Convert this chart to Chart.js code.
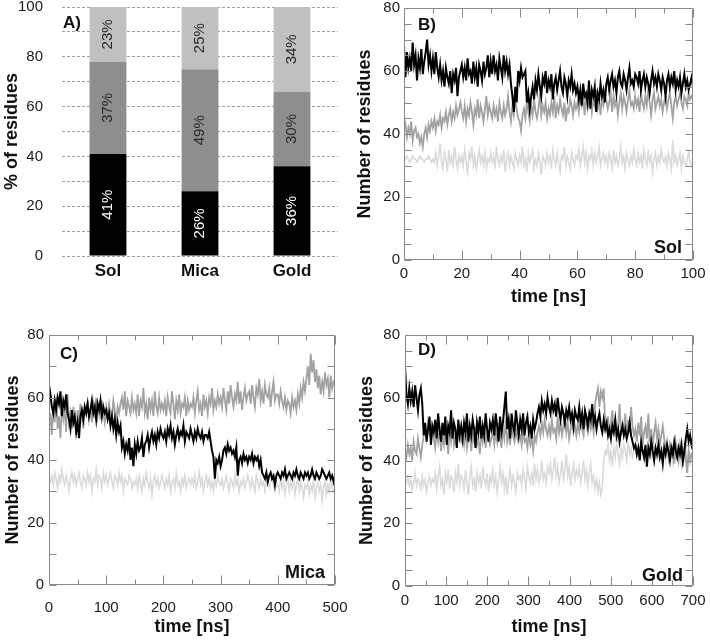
<!DOCTYPE html>
<html><head><meta charset="utf-8">
<script src="https://cdn.jsdelivr.net/npm/chart.js@4.4.1/dist/chart.umd.min.js"></script>
<style>
html,body{margin:0;padding:0;background:#fff;}
#wrap{position:relative;width:710px;height:642px;overflow:hidden;background:#fff;}
canvas{position:absolute;left:0;top:0;}
</style></head><body>
<div id="wrap">
<canvas id="cA" width="710" height="642"></canvas>
<canvas id="cB" width="710" height="642"></canvas>
<canvas id="cC" width="710" height="642"></canvas>
<canvas id="cD" width="710" height="642"></canvas>
</div>
<script>
// ---------- Panel A data ----------
const categories = ['Sol', 'Mica', 'Gold'];
const pctBlack = [41, 26, 36];
const pctMid = [37, 49, 30];
const pctLight = [23, 25, 34];

// ---------- Panel B (Sol) ----------
const timeB = [
0,0.5,1,1.5,2,2.5,3,3.5,4,4.5,5,5.5,6,6.5,7,7.5,8,8.5,9,9.5,
10,10.5,11,11.5,12,12.5,13,13.5,14,14.5,15,15.5,16,16.5,17,17.5,18,18.5,19,19.5,
20,20.5,21,21.5,22,22.5,23,23.5,24,24.5,25,25.5,26,26.5,27,27.5,28,28.5,29,29.5,
30,30.5,31,31.5,32,32.5,33,33.5,34,34.5,35,35.5,36,36.5,37,37.5,38,38.5,39,39.5,
40,40.5,41,41.5,42,42.5,43,43.5,44,44.5,45,45.5,46,46.5,47,47.5,48,48.5,49,49.5,
50,50.5,51,51.5,52,52.5,53,53.5,54,54.5,55,55.5,56,56.5,57,57.5,58,58.5,59,59.5,
60,60.5,61,61.5,62,62.5,63,63.5,64,64.5,65,65.5,66,66.5,67,67.5,68,68.5,69,69.5,
70,70.5,71,71.5,72,72.5,73,73.5,74,74.5,75,75.5,76,76.5,77,77.5,78,78.5,79,79.5,
80,80.5,81,81.5,82,82.5,83,83.5,84,84.5,85,85.5,86,86.5,87,87.5,88,88.5,89,89.5,
90,90.5,91,91.5,92,92.5,93,93.5,94,94.5,95,95.5,96,96.5,97,97.5,98,98.5,99,99.5,
100];
const blackB = [
68,58,66,61,64,60,69,62,65,57,64,61,67,59,63,66,70,62,65,60,
64,59,66,61,58,62,57,60,55,61,58,56,60,53,59,57,61,52,58,60,
62,58,61,57,64,59,60,56,63,58,61,55,62,60,57,63,59,61,65,58,
63,59,65,60,62,57,64,61,58,65,60,63,59,62,56,52,47,55,50,60,
57,61,58,59,60,50,53,48,52,55,51,57,54,59,55,52,58,56,60,53,
57,55,59,51,56,58,54,57,60,55,53,58,56,52,57,55,59,54,56,53,
55,51,54,49,56,52,53,50,57,48,54,52,55,47,53,51,56,52,54,50,
56,58,54,57,59,55,57,53,58,60,56,55,59,57,54,58,61,56,57,55,
59,58,56,60,54,57,59,55,58,56,53,57,60,56,58,55,59,57,54,58,
56,52,57,59,55,58,56,60,54,57,55,58,53,56,59,55,57,54,56,58,
55];
const grayB = [
41,43,39,42,40,44,38,41,42,39,40,37,39,36,40,42,39,43,41,44,
42,45,41,44,43,46,42,45,44,47,43,46,48,44,47,45,49,46,48,50,
47,45,49,44,48,46,50,47,43,48,46,51,45,49,47,44,48,52,46,49,
47,45,49,46,48,44,50,47,45,49,46,48,52,47,44,49,46,50,48,45,
44,41,46,48,45,50,47,44,49,46,51,47,45,48,53,46,49,47,50,45,
48,46,50,47,52,45,49,47,51,48,46,50,44,48,47,51,49,46,50,48,
50,47,52,49,51,46,53,48,50,52,47,51,49,54,48,50,46,52,49,51,
51,48,50,53,47,52,49,51,46,50,53,48,52,50,47,51,54,49,50,48,
52,49,51,47,53,50,48,52,49,54,50,46,51,53,48,50,52,49,51,47,
50,52,48,51,53,49,45,50,52,49,51,53,50,48,52,51,49,53,51,52,
51];
const lightB = [
32,32,33,32,31,32,33,32,32,31,32,33,32,32,31,32,32,33,32,31,
32,31,34,30,33,37,31,29,34,32,28,35,31,33,30,36,32,29,33,31,
33,30,35,31,28,34,32,36,30,33,29,32,35,31,33,30,34,29,32,31,
34,31,33,29,36,32,30,33,31,35,28,32,34,30,33,31,29,34,32,30,
33,31,36,30,32,28,34,31,33,35,29,32,30,34,31,27,33,32,30,34,
31,33,29,35,32,30,34,31,28,33,32,36,30,33,31,29,34,32,30,33,
32,35,30,33,36,31,34,29,33,32,35,30,34,31,33,36,30,32,34,31,
33,30,34,32,29,35,31,33,30,32,36,31,33,29,34,32,30,33,31,35,
32,30,34,31,33,29,35,32,30,34,31,33,28,32,34,30,33,31,35,32,
31,33,30,34,32,29,38,31,33,30,32,34,29,33,31,30,32,34,31,30,
31];

// ---------- Panel C (Mica) ----------
const timeC = [
0,2.5,5,7.5,10,12.5,15,17.5,20,22.5,25,27.5,30,32.5,35,37.5,40,42.5,45,47.5,
50,52.5,55,57.5,60,62.5,65,67.5,70,72.5,75,77.5,80,82.5,85,87.5,90,92.5,95,97.5,
100,102.5,105,107.5,110,112.5,115,117.5,120,122.5,125,127.5,130,132.5,135,137.5,140,142.5,145,147.5,
150,152.5,155,157.5,160,162.5,165,167.5,170,172.5,175,177.5,180,182.5,185,187.5,190,192.5,195,197.5,
200,202.5,205,207.5,210,212.5,215,217.5,220,222.5,225,227.5,230,232.5,235,237.5,240,242.5,245,247.5,
250,252.5,255,257.5,260,262.5,265,267.5,270,272.5,275,277.5,280,282.5,285,287.5,290,292.5,295,297.5,
300,302.5,305,307.5,310,312.5,315,317.5,320,322.5,325,327.5,330,332.5,335,337.5,340,342.5,345,347.5,
350,352.5,355,357.5,360,362.5,365,367.5,370,372.5,375,377.5,380,382.5,385,387.5,390,392.5,395,397.5,
400,402.5,405,407.5,410,412.5,415,417.5,420,422.5,425,427.5,430,432.5,435,437.5,440,442.5,445,447.5,
450,452.5,455,457.5,460,462.5,465,467.5,470,472.5,475,477.5,480,482.5,485,487.5,490,492.5,495,497.5,
500];
const blackC = [
64,61,57,55,59,56,60,58,62,54,59,57,61,55,53,50,56,52,54,49,
52,47,54,56,53,57,55,58,54,56,59,55,57,53,58,56,59,54,57,55,
56,53,55,51,54,50,53,48,52,49,51,44,46,42,45,43,47,40,44,38,
45,42,46,43,44,47,41,45,46,48,44,47,49,46,48,45,49,47,50,48,
47,49,46,50,48,51,47,49,45,48,50,47,49,48,51,46,49,48,47,50,
48,46,49,47,50,48,47,49,46,48,48,47,49,46,43,41,34,40,39,41,
38,40,43,44,42,45,43,44,42,43,41,44,35,40,41,39,42,40,41,39,
41,40,42,39,41,40,41,38,40,36,35,34,36,33,35,36,34,35,32,35,
36,35,34,36,35,37,34,35,36,35,34,36,35,37,35,34,36,35,34,36,
35,36,34,35,37,35,34,36,35,34,35,37,36,35,34,35,36,34,35,33,
35];
const grayC = [
50,55,48,57,52,60,50,54,47,58,53,56,49,61,52,55,50,57,53,48,
56,52,58,54,50,57,55,59,53,56,52,58,55,60,54,57,53,59,55,52,
57,54,58,55,53,59,56,52,57,55,58,60,56,62,54,59,57,55,60,56,
58,55,61,54,59,57,63,55,58,53,60,56,59,54,62,57,55,60,56,58,
56,59,54,60,57,55,62,58,53,59,56,61,55,58,57,60,54,59,56,58,
57,60,55,59,62,56,58,54,61,57,59,55,60,58,63,56,59,57,61,58,
60,57,63,59,56,62,58,64,60,57,61,59,65,58,62,56,60,63,59,61,
62,58,64,60,57,63,61,66,59,62,58,64,61,60,63,57,62,65,59,61,
61,58,62,59,57,60,56,59,58,55,60,57,59,56,61,58,63,60,65,62,
66,70,64,74,68,72,65,69,63,67,61,65,62,68,64,66,60,67,63,65,
64];
const lightC = [
34,33,35,32,36,34,31,35,33,37,34,32,35,33,30,34,36,33,35,32,
34,36,33,31,35,34,32,36,33,35,30,34,33,37,32,35,34,31,36,33,
35,32,34,36,33,31,35,34,32,36,33,35,30,34,33,32,35,34,31,33,
32,34,31,35,33,30,34,32,36,33,31,34,29,33,35,32,34,31,33,35,
33,31,34,32,35,30,33,34,31,36,32,33,30,34,32,35,31,33,34,32,
34,32,35,31,33,36,32,34,30,33,35,32,34,31,33,30,34,32,35,33,
32,34,31,33,35,32,30,34,33,31,35,32,34,30,33,32,34,31,33,35,
33,31,34,32,30,35,33,31,34,32,33,30,34,32,31,33,35,32,30,33,
32,30,34,31,33,29,32,34,30,33,31,35,29,32,34,30,33,31,28,32,
31,33,29,32,30,34,28,31,33,30,32,27,31,33,29,32,30,34,31,30,
31];

// ---------- Panel D (Gold) ----------
const timeD = [
0,3.5,7,10.5,14,17.5,21,24.5,28,31.5,35,38.5,42,45.5,49,52.5,56,59.5,63,66.5,
70,73.5,77,80.5,84,87.5,91,94.5,98,101.5,105,108.5,112,115.5,119,122.5,126,129.5,133,136.5,
140,143.5,147,150.5,154,157.5,161,164.5,168,171.5,175,178.5,182,185.5,189,192.5,196,199.5,203,206.5,
210,213.5,217,220.5,224,227.5,231,234.5,238,241.5,245,248.5,252,255.5,259,262.5,266,269.5,273,276.5,
280,283.5,287,290.5,294,297.5,301,304.5,308,311.5,315,318.5,322,325.5,329,332.5,336,339.5,343,346.5,
350,353.5,357,360.5,364,367.5,371,374.5,378,381.5,385,388.5,392,395.5,399,402.5,406,409.5,413,416.5,
420,423.5,427,430.5,434,437.5,441,444.5,448,451.5,455,458.5,462,465.5,469,472.5,476,479.5,483,486.5,
490,493.5,497,500.5,504,507.5,511,514.5,518,521.5,525,528.5,532,535.5,539,542.5,546,549.5,553,556.5,
560,563.5,567,570.5,574,577.5,581,584.5,588,591.5,595,598.5,602,605.5,609,612.5,616,619.5,623,626.5,
630,633.5,637,640.5,644,647.5,651,654.5,658,661.5,665,668.5,672,675.5,679,682.5,686,689.5,693,696.5,
700];
const blackD = [
70,61,58,63,59,62,57,64,60,56,61,63,58,48,52,46,50,54,45,51,
49,53,47,55,50,46,52,48,54,45,51,49,56,47,52,50,44,53,48,51,
47,52,49,55,46,51,48,53,50,44,52,49,54,47,51,48,55,50,46,52,
50,53,48,55,51,46,54,49,52,57,62,50,53,47,55,51,49,56,52,48,
53,50,55,48,52,54,49,51,47,53,50,52,55,57,54,59,56,58,55,60,
57,55,59,56,58,54,60,56,53,57,55,52,56,54,57,53,55,51,56,54,
53,57,52,55,50,56,54,51,55,53,58,52,54,50,53,55,51,49,53,50,
52,48,50,47,51,49,53,48,50,46,49,51,48,50,47,49,52,48,46,44,
45,42,44,40,46,43,41,45,38,44,42,46,43,40,44,42,45,41,43,39,
44,42,45,43,40,44,42,46,43,41,44,42,45,40,43,47,50,46,48,45,
47];
const grayD = [
43,41,45,42,44,40,46,43,42,47,44,41,45,48,50,47,52,49,51,48,
47,44,49,46,51,43,48,45,50,47,42,49,46,52,45,48,44,50,47,46,
48,45,50,44,47,49,43,48,46,51,45,47,42,49,46,50,44,48,47,45,
47,50,45,49,46,52,48,44,50,47,53,46,49,45,51,48,46,50,47,49,
48,45,50,46,47,44,49,45,47,43,48,46,49,51,48,52,49,53,50,48,
51,48,53,49,50,47,54,49,52,48,51,55,49,52,47,50,53,49,51,48,
52,49,53,50,48,54,51,49,53,50,52,49,58,61,63,57,62,60,63,52,
50,54,47,52,56,49,53,46,51,58,48,52,50,55,47,53,49,57,51,48,
50,46,52,48,54,45,49,51,47,55,46,50,44,49,52,47,50,45,48,51,
47,43,46,41,45,42,44,39,46,43,40,45,42,38,44,41,36,43,40,42,
41];
const lightD = [
34,33,35,32,34,31,33,36,32,34,33,31,35,32,34,30,33,35,32,34,
33,36,31,35,38,32,34,29,36,33,37,31,35,34,30,36,33,39,32,35,
34,31,37,33,29,35,38,32,34,30,36,33,35,31,38,34,32,36,30,35,
33,37,32,35,30,34,38,33,36,31,35,29,34,37,32,35,33,30,36,34,
35,32,37,34,31,38,35,33,36,32,39,34,37,33,35,40,34,36,33,38,
36,39,34,37,41,35,38,33,36,40,34,37,42,35,38,32,36,39,34,37,
35,38,33,36,40,34,37,32,36,39,33,35,31,34,30,33,29,31,40,43,
42,45,40,43,38,44,41,46,42,39,44,41,45,43,40,46,42,44,41,43,
44,41,45,42,46,43,40,44,42,47,43,41,45,42,44,40,46,43,41,44,
43,40,44,41,45,42,39,43,41,44,40,42,38,43,41,45,40,42,39,41,
42];

// ---------- rendering ----------
const FONT = "'Liberation Sans', Arial, Helvetica, sans-serif";
Chart.defaults.font.family = FONT;
Chart.defaults.color = '#1a1a1a';

function fixW(w) { return s => { s.width = w; s.paddingTop = 0; s.paddingBottom = 0; s.paddingLeft = 0; s.paddingRight = 0; }; }
function fixH(h) { return s => { s.height = h; s.paddingTop = 0; s.paddingBottom = 0; s.paddingLeft = 0; s.paddingRight = 0; }; }

const framePlugin = {
  id: 'frame',
  afterDatasetsDraw(chart, args, o) {
    const {ctx, chartArea: a, scales: {x, y}} = chart;
    ctx.save();
    ctx.strokeStyle = o.color;
    ctx.lineWidth = 1;
    const L = Math.round(a.left) + 0.5, R = Math.round(a.right) - 0.5;
    const T = Math.round(a.top) + 0.5, B = Math.round(a.bottom) - 0.5;
    ctx.beginPath();
    ctx.rect(L, T, R - L, B - T);
    for (let v = x.min; v <= x.max + 1e-9; v += o.xMinor) {
      const px = Math.round(x.getPixelForValue(v)) + 0.5;
      const major = Math.abs(v / o.xMajor - Math.round(v / o.xMajor)) < 1e-6;
      const len = major ? o.majorLen : o.minorLen;
      ctx.moveTo(px, B); ctx.lineTo(px, B - len);
      ctx.moveTo(px, T); ctx.lineTo(px, T + len);
    }
    for (let v = y.min; v <= y.max + 1e-9; v += o.yMinor) {
      const py = Math.round(y.getPixelForValue(v)) + 0.5;
      ctx.moveTo(L, py); ctx.lineTo(L + o.yLen, py);
      ctx.moveTo(R, py); ctx.lineTo(R - o.yLen, py);
    }
    ctx.stroke();
    ctx.fillStyle = '#111';
    ctx.textBaseline = 'alphabetic';
    ctx.font = 'bold 17px ' + FONT;
    ctx.textAlign = 'left';
    ctx.fillText(o.tag, a.left + o.tagDx, a.top + o.tagDy);
    ctx.font = 'bold 18px ' + FONT;
    ctx.textAlign = 'right';
    ctx.fillText(o.name, a.right - o.nameDx, a.bottom - o.nameDy);
    ctx.restore();
  }
};

const barLabelPlugin = {
  id: 'barLabels',
  afterDatasetsDraw(chart, args, o) {
    const ctx = chart.ctx;
    const a = chart.chartArea;
    ctx.save();
    ctx.font = '15px ' + FONT;
    ctx.textAlign = 'center';
    ctx.textBaseline = 'middle';
    chart.data.datasets.forEach((ds, di) => {
      const meta = chart.getDatasetMeta(di);
      meta.data.forEach((bar, i) => {
        const top = Math.max(Math.min(bar.y, bar.base), a.top);
        const bot = Math.max(bar.y, bar.base);
        const cy = (top + bot) / 2;
        ctx.save();
        ctx.translate(bar.x, cy);
        ctx.rotate(-Math.PI / 2);
        ctx.fillStyle = o.colors[di];
        ctx.fillText(ds.data[i] + '%', 0, 0);
        ctx.restore();
      });
    });
    ctx.font = 'bold 17px ' + FONT;
    ctx.fillStyle = '#111';
    ctx.textAlign = 'left';
    ctx.textBaseline = 'alphabetic';
    ctx.fillText('A)', a.left + 1, a.top + 21);
    ctx.restore();
  }
};

// Panel A
new Chart(document.getElementById('cA'), {
  type: 'bar',
  data: {
    labels: categories,
    datasets: [
      {data: pctBlack, backgroundColor: '#000000'},
      {data: pctMid, backgroundColor: '#8e8e8e'},
      {data: pctLight, backgroundColor: '#c0c0c0'}
    ]
  },
  options: {
    responsive: false, animation: false, devicePixelRatio: 1,
    layout: {padding: {left: 0, top: 7, right: 372, bottom: 346}},
    datasets: {bar: {barPercentage: 0.4, categoryPercentage: 1}},
    plugins: {legend: {display: false}, tooltip: {enabled: false},
      barLabels: {colors: ['#ffffff', '#2a2a2a', '#2a2a2a']}},
    scales: {
      x: {stacked: true, afterFit: fixH(40),
        grid: {display: false, drawTicks: false}, border: {display: false},
        ticks: {padding: 5, maxRotation: 0, color: '#111', font: {size: 17, weight: 'bold'}}},
      y: {stacked: true, min: 0, max: 100, afterFit: fixW(62),
        grid: {color: '#a0a0a0', lineWidth: 1, drawTicks: false},
        border: {display: false, dash: [3, 2]},
        ticks: {stepSize: 10, padding: 19, font: {size: 15}, color: '#1a1a1a',
          callback: v => (v % 20 === 0 ? v : '')},
        title: {display: true, text: '% of residues', color: '#111',
          font: {size: 18, weight: 'bold'}, padding: {top: 1, bottom: 0}}}
    }
  },
  plugins: [barLabelPlugin]
});

function lineChart(id, times, black, gray, light, c) {
  const pts = arr => arr.map((v, i) => ({x: times[i], y: v}));
  return new Chart(document.getElementById(id), {
    type: 'line',
    data: {datasets: [
      {data: pts(black), borderColor: '#000000', borderWidth: 2},
      {data: pts(gray), borderColor: '#a2a2a2', borderWidth: 1.8},
      {data: pts(light), borderColor: '#dadada', borderWidth: 1.6}
    ]},
    options: {
      responsive: false, animation: false, devicePixelRatio: 1,
      layout: {padding: c.pad},
      elements: {point: {radius: 0}, line: {tension: 0, borderJoinStyle: 'miter'}},
      plugins: {legend: {display: false}, tooltip: {enabled: false}, frame: c.frame},
      scales: {
        x: {type: 'linear', min: 0, max: c.xMax, afterFit: fixH(c.xH),
          grid: {display: false, drawTicks: false}, border: {display: false},
          ticks: {stepSize: c.xStep, padding: c.xPad, font: {size: 15}, color: '#1a1a1a', maxRotation: 0, autoSkip: false},
          title: {display: true, text: 'time [ns]', color: '#111', font: {size: 18, weight: 'bold'},
            padding: {top: 0, bottom: c.xTitlePad}}},
        y: {min: 0, max: 80, afterFit: fixW(c.yW),
          grid: {display: false, drawTicks: false}, border: {display: false},
          ticks: {stepSize: 20, padding: c.yPad, font: {size: 15}, color: '#1a1a1a'},
          title: {display: true, text: 'Number of residues', color: '#111', font: {size: 18, weight: 'bold'},
            padding: {top: c.yTitlePad, bottom: 0}}}
      }
    },
    plugins: [framePlugin]
  });
}

lineChart('cB', timeB, blackB, grayB, lightB, {
  pad: {left: 354, top: 8, right: 17, bottom: 332}, xH: 50, yW: 50,
  xMax: 100, xStep: 20, xPad: 5, xTitlePad: 2, yPad: 4, yTitlePad: 0,
  frame: {color: '#888888', xMinor: 10, xMajor: 20, yMinor: 5, majorLen: 9, minorLen: 5, yLen: 7,
    tag: 'B)', tagDx: 14, tagDy: 22, name: 'Sol', nameDx: 11, nameDy: 7}
});
lineChart('cC', timeC, blackC, grayC, lightC, {
  pad: {left: 0, top: 335, right: 375, bottom: 2}, xH: 55, yW: 49,
  xMax: 500, xStep: 100, xPad: 14, xTitlePad: 2, yPad: 5, yTitlePad: 2,
  frame: {color: '#888888', xMinor: 50, xMajor: 100, yMinor: 10, majorLen: 9, minorLen: 5, yLen: 7,
    tag: 'C)', tagDx: 11, tagDy: 24, name: 'Mica', nameDx: 10, nameDy: 7}
});
lineChart('cD', timeD, blackD, grayD, lightD, {
  pad: {left: 355, top: 335, right: 17, bottom: 2}, xH: 54, yW: 50,
  xMax: 700, xStep: 100, xPad: 6, xTitlePad: 2, yPad: 5, yTitlePad: 1,
  frame: {color: '#888888', xMinor: 50, xMajor: 100, yMinor: 5, majorLen: 9, minorLen: 5, yLen: 7,
    tag: 'D)', tagDx: 13, tagDy: 20, name: 'Gold', nameDx: 10, nameDy: 5}
});
</script>
</body></html>
